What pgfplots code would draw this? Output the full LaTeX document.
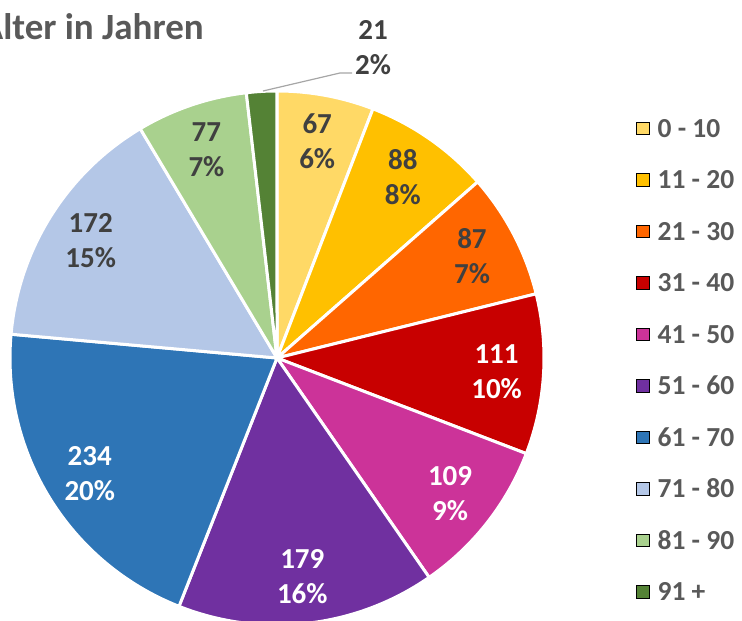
\documentclass[border=0pt]{standalone}
\usepackage{pgfplots}
\pgfplotsset{compat=1.18}
\usepackage{pgfplotstable}
\usepackage{fontspec}
\setmainfont{Carlito}
\definecolor{c0}{HTML}{FFD966}
\definecolor{c1}{HTML}{FFC000}
\definecolor{c2}{HTML}{FF6600}
\definecolor{c3}{HTML}{C80000}
\definecolor{c4}{HTML}{CC3399}
\definecolor{c5}{HTML}{7030A0}
\definecolor{c6}{HTML}{2E75B6}
\definecolor{c7}{HTML}{B4C7E7}
\definecolor{c8}{HTML}{A9D18E}
\definecolor{c9}{HTML}{548235}
\definecolor{lbl}{HTML}{404040}
\definecolor{leg}{HTML}{595959}
\definecolor{leader}{HTML}{A6A6A6}
\pgfplotstableread[col sep=comma]{
group,value,pct,lc
0 - 10,67,6,lbl
11 - 20,88,8,lbl
21 - 30,87,7,lbl
31 - 40,111,10,white
41 - 50,109,9,white
51 - 60,179,16,white
61 - 70,234,20,white
71 - 80,172,15,lbl
81 - 90,77,7,lbl
91 +,21,2,lbl
}\agedata
\tikzset{lab/.style={font=\fontsize{29}{35}\selectfont\bfseries, align=center, inner sep=0pt}}
\begin{document}
\begin{tikzpicture}
\pgfplotstablegetrowsof{\agedata}
\pgfmathtruncatemacro{\nrows}{\pgfplotsretval-1}
\begin{axis}[
  scale only axis, width=742pt, height=621pt,
  xmin=0, xmax=742, ymin=0, ymax=621,
  hide axis, clip=false,
  legend image code/.code={\fill[#1] (0pt,-6.25pt) rectangle (12.5pt,6.25pt);},
  legend style={at={(636/742,502/621)}, anchor=north west, draw=none, fill=none,
    inner sep=0pt, column sep=8.5pt, row sep=33.5pt,
    nodes={inner sep=0pt, text height=18pt, text depth=0pt, text=leg},
    font=\fontsize{27.5}{34}\selectfont\bfseries},
  legend cell align=left,
]
\coordinate (bl) at (axis cs:0,0);
\coordinate (tr) at (axis cs:742,621);
\pgfmathsetmacro{\total}{0}
\pgfplotsforeachungrouped \i in {0,...,\nrows}{%
  \pgfplotstablegetelem{\i}{value}\of\agedata
  \pgfmathsetmacro{\total}{\total+\pgfplotsretval}%
}
\pgfmathsetmacro{\cum}{0}
\pgfplotsforeachungrouped \i in {0,...,\nrows}{%
  \pgfplotstablegetelem{\i}{value}\of\agedata \let\v\pgfplotsretval
  \pgfplotstablegetelem{\i}{pct}\of\agedata \let\p\pgfplotsretval
  \pgfplotstablegetelem{\i}{lc}\of\agedata \let\lc\pgfplotsretval
  \pgfplotstablegetelem{\i}{group}\of\agedata \let\g\pgfplotsretval
  \pgfmathsetmacro{\a}{90-\cum*(360/\total)}%
  \pgfmathsetmacro{\b}{90-(\cum+\v)*(360/\total)}%
  \pgfmathsetmacro{\m}{(\a+\b)/2}%
  \pgfmathsetmacro{\cum}{\cum+\v}%
  \edef\slice{\noexpand\filldraw[fill=c\i, draw=white, line width=3pt, line join=round]
    (axis cs:277,263) -- ++(\a:267pt) arc[start angle=\a, end angle=\b, radius=267pt] -- cycle;}%
  \slice
  \ifnum\i<\nrows
    \edef\lab{\noexpand\path (axis cs:277,263) ++(\m:220pt) node[lab, text=\lc] {\v\noexpand\\\p\noexpand\%};}%
  \else
    \edef\lab{\noexpand\node[lab, text=\lc] at (axis cs:373,573.5) {\v\noexpand\\\p\noexpand\%};}%
  \fi
  \lab
  \edef\leg{\noexpand\addlegendimage{fill=c\i}\noexpand\addlegendentry{\g}}%
  \leg
}
\draw[leader, line width=1.2pt] (axis cs:263,530) -- (axis cs:340,548) -- (axis cs:352,548);
\node[anchor=base east, text=leg, font=\fontsize{37}{44}\selectfont\bfseries, inner sep=0pt] at (axis cs:204,581) {Alter in Jahren};
\end{axis}
\pgfresetboundingbox
\path (bl) rectangle (tr);
\end{tikzpicture}
\end{document}
